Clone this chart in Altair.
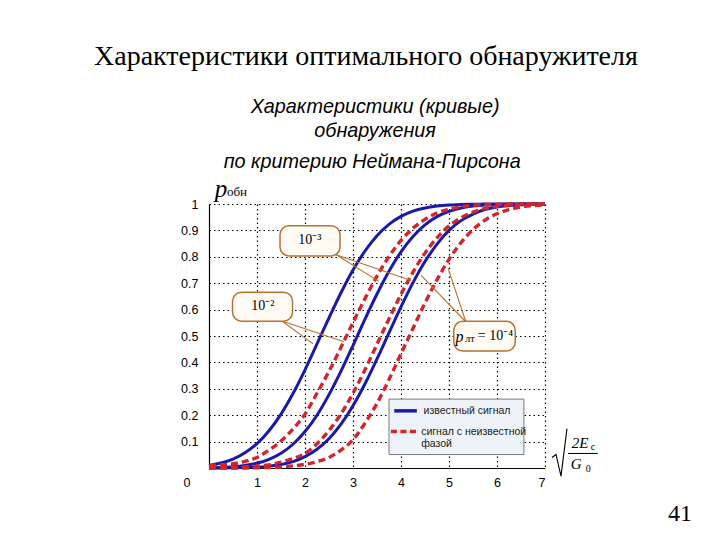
import altair as alt
import pandas as pd

# ---------------- data ----------------
x_grid = [0, 0.25, 0.5, 0.75, 1, 1.25, 1.5, 1.75, 2, 2.25, 2.5, 2.75, 3, 3.25, 3.5,
          3.75, 4, 4.25, 4.5, 4.75, 5, 5.25, 5.5, 5.75, 6, 6.25, 6.5, 6.75, 7]

# known signal (solid blue), false-alarm probability 1e-2, 1e-3, 1e-4
blue_pf2 = [0.010, 0.019, 0.034, 0.058, 0.092, 0.141, 0.204, 0.282, 0.372, 0.470, 0.569, 0.664, 0.750, 0.822, 0.880,
            0.923, 0.953, 0.973, 0.985, 0.992, 0.996, 0.998, 0.999, 1.0, 1.0, 1.0, 1.0, 1.0, 1.0]
blue_pf3 = [0.001, 0.002, 0.005, 0.010, 0.018, 0.033, 0.056, 0.090, 0.138, 0.200, 0.278, 0.367, 0.464, 0.564, 0.659,
            0.745, 0.819, 0.877, 0.921, 0.952, 0.972, 0.985, 0.992, 0.996, 0.998, 0.999, 1.0, 1.0, 1.0]
blue_pf4 = [0.000, 0.000, 0.001, 0.002, 0.003, 0.007, 0.013, 0.024, 0.043, 0.071, 0.111, 0.166, 0.236, 0.319, 0.413,
            0.512, 0.610, 0.702, 0.782, 0.848, 0.900, 0.937, 0.962, 0.979, 0.989, 0.994, 0.997, 0.999, 0.999]
# signal with unknown phase (dashed red)
red_pf2 = [0.010, 0.012, 0.016, 0.025, 0.040, 0.068, 0.102, 0.148, 0.204, 0.283, 0.366, 0.457, 0.551, 0.642, 0.727,
           0.801, 0.862, 0.908, 0.942, 0.966, 0.980, 0.990, 0.995, 0.998, 0.999, 1.0, 1.0, 1.0, 1.0]
red_pf3 = [0.001, 0.001, 0.002, 0.004, 0.007, 0.012, 0.022, 0.036, 0.055, 0.092, 0.142, 0.205, 0.283, 0.372, 0.469,
           0.565, 0.658, 0.742, 0.814, 0.872, 0.917, 0.948, 0.969, 0.983, 0.991, 0.996, 0.998, 0.999, 1.0]
red_pf4 = [0.000, 0.000, 0.000, 0.000, 0.001, 0.002, 0.004, 0.008, 0.014, 0.024, 0.040, 0.068, 0.107, 0.170, 0.245,
           0.335, 0.433, 0.529, 0.625, 0.713, 0.790, 0.854, 0.903, 0.939, 0.963, 0.979, 0.989, 0.994, 0.997]

x_ticks = [1, 2, 3, 4, 5, 6, 7]
y_ticks = [0.1, 0.2, 0.3, 0.4, 0.5, 0.6, 0.7, 0.8, 0.9, 1]

title_text = "Характеристики оптимального обнаружителя"
subtitle_lines = ["Характеристики (кривые)", "обнаружения", "по критерию Неймана-Пирсона"]
legend_labels = ["известный сигнал", "сигнал с неизвестной", "фазой"]
callout_labels = ["10⁻³", "10⁻²"]
page_number = "41"

# callout boxes (data units): x1, x2, y1, y2
box_x1 = [1.48, 0.49, 5.10]
box_x2 = [2.73, 1.74, 6.38]
box_y1 = [0.918, 0.666, 0.556]
box_y2 = [0.803, 0.556, 0.443]
# leader lines (data units)
lead_x1 = [2.65, 2.65, 1.52, 1.52, 5.35, 5.35]
lead_y1 = [0.808, 0.808, 0.557, 0.557, 0.554, 0.554]
lead_x2 = [3.54, 4.21, 2.17, 2.81, 4.42, 4.98]
lead_y2 = [0.707, 0.710, 0.470, 0.478, 0.730, 0.757]

BLUE = "#1a1aaa"
RED = "#d3242b"
BROWN = "#b8722f"

# ---------------- tables ----------------
rows = []
for name, vals, kind in [("b2", blue_pf2, "known"), ("b3", blue_pf3, "known"), ("b4", blue_pf4, "known"),
                         ("r2", red_pf2, "unknown"), ("r3", red_pf3, "unknown"), ("r4", red_pf4, "unknown")]:
    for xv, pv in zip(x_grid, vals):
        rows.append({"x": xv, "p": pv, "series": name, "kind": kind})
curves = pd.DataFrame(rows)

xs = alt.Scale(domain=[0, 7], nice=False, zero=False)
ys = alt.Scale(domain=[0, 1], nice=False, zero=False)
x_axis = alt.Axis(values=x_ticks, title=None, grid=True, gridDash=[1.5, 3], gridColor="black", gridOpacity=1,
                  gridWidth=1.2, ticks=False, labelPadding=8, labelFont="Liberation Sans", labelFontSize=12.5,
                  labelColor="black", domainColor="black", domainWidth=1.2)
y_axis = alt.Axis(values=y_ticks, title=None, grid=True, gridDash=[1.5, 3], gridColor="black", gridOpacity=1,
                  gridWidth=1.2, ticks=False, labelPadding=11, labelFont="Liberation Sans", labelFontSize=12.5,
                  labelColor="black", domainColor="black", domainWidth=1.2, format="~g")


def X(f):
    return alt.X(f, type="quantitative", scale=xs, axis=x_axis)


def Y(f):
    return alt.Y(f, type="quantitative", scale=ys, axis=y_axis)


blue_lines = alt.Chart(curves).transform_filter("datum.kind == 'known'").mark_line(
    color=BLUE, strokeWidth=3, interpolate="monotone").encode(x=X("x"), y=Y("p"), detail="series:N")
red_lines = alt.Chart(curves).transform_filter("datum.kind == 'unknown'").mark_line(
    color=RED, strokeWidth=3.4, strokeDash=[7, 4], interpolate="monotone").encode(x=X("x"), y=Y("p"), detail="series:N")

leaders = alt.Chart(pd.DataFrame({"x": lead_x1, "p": lead_y1, "x2": lead_x2, "p2": lead_y2})).mark_rule(
    color=BROWN, strokeWidth=1.1).encode(x=X("x"), y=Y("p"), x2="x2", y2="p2")

boxes = alt.Chart(pd.DataFrame({"x": box_x1, "x2": box_x2, "p": box_y1, "p2": box_y2})).mark_rect(
    cornerRadius=9, fill="#fffaf3", stroke=BROWN, strokeWidth=1.5).encode(x=X("x"), x2="x2", y=Y("p"), y2="p2")


def text_layer(xv, yv, txt, size, font="Liberation Serif", style="normal", align="center", color="black"):
    df = pd.DataFrame({"x": [xv], "p": [yv], "t": [txt]})
    return alt.Chart(df).mark_text(fontSize=size, font=font, fontStyle=style, align=align, baseline="middle",
                                   color=color).encode(x=X("x"), y=Y("p"), text="t:N")


# legend box
legend_box = alt.Chart(pd.DataFrame({"x": [3.75], "x2": [6.56], "p": [0.261], "p2": [0.051]})).mark_rect(
    fill="#eef2f9", stroke="#7a7a7a", strokeWidth=1).encode(x=X("x"), x2="x2", y=Y("p"), y2="p2")
leg_blue = alt.Chart(pd.DataFrame({"x": [3.86], "x2": [4.33], "p": [0.2165]})).mark_rule(
    color=BLUE, strokeWidth=3.5).encode(x=X("x"), x2="x2", y=Y("p"))
leg_red = alt.Chart(pd.DataFrame({"x": [3.79], "x2": [4.34], "p": [0.138]})).mark_rule(
    color=RED, strokeWidth=3.6, strokeDash=[6, 3.5]).encode(x=X("x"), x2="x2", y=Y("p"))

# radical sign of the x-axis title
radical = alt.Chart(pd.DataFrame({"x": [7.146, 7.229, 7.333, 7.458], "p": [0.040, 0.0513, -0.031, 0.149],
                                  "o": [0, 1, 2, 3]})).mark_line(color="black", strokeWidth=1.1).encode(
    x=X("x"), y=Y("p"), order="o:Q")
frac_bar = alt.Chart(pd.DataFrame({"x": [7.48], "x2": [8.10], "p": [0.0551]})).mark_rule(
    color="black", strokeWidth=1).encode(x=X("x"), x2="x2", y=Y("p"))

layers = [
    blue_lines, red_lines, leaders, boxes,
    text_layer(2.10, 0.862, callout_labels[0], 14),
    text_layer(1.12, 0.612, callout_labels[1], 14),
    text_layer(5.22, 0.497, "p", 16, style="italic"),
    text_layer(5.34, 0.488, "лт", 10, align="left"),
    text_layer(5.60, 0.500, "= 10⁻⁴", 14, align="left"),
    legend_box, leg_blue, leg_red,
    text_layer(4.47, 0.2165, legend_labels[0], 10.5, font="Liberation Sans", align="left", color="#222222"),
    text_layer(4.42, 0.138, legend_labels[1], 10.5, font="Liberation Sans", align="left", color="#222222"),
    text_layer(4.42, 0.0915, legend_labels[2], 10.5, font="Liberation Sans", align="left", color="#222222"),
    radical, frac_bar,
    text_layer(7.73, 0.094, "2E", 15, style="italic"),
    text_layer(8.00, 0.078, "с", 10),
    text_layer(7.65, 0.016, "G", 15, style="italic"),
    text_layer(7.90, -0.004, "0", 10),
    text_layer(-0.458, -0.058, "0", 12.5, font="Liberation Sans"),
    text_layer(0.25, 1.058, "p", 25, style="italic"),
    text_layer(0.375, 1.045, "обн", 13, align="left"),
    text_layer(3.27, 1.557, title_text, 28),
    text_layer(3.46, 1.368, subtitle_lines[0], 19.8, font="Liberation Sans", style="italic"),
    text_layer(3.46, 1.278, subtitle_lines[1], 19.8, font="Liberation Sans", style="italic"),
    text_layer(3.40, 1.160, subtitle_lines[2], 19.8, font="Liberation Sans", style="italic"),
    text_layer(9.81, -0.173, page_number, 24),
]

chart = alt.layer(*layers).properties(
    width=336, height=264,
    padding={"left": 201, "top": 196, "right": 160, "bottom": 60},
    autosize=alt.AutoSizeParams(type="none"),
    background="white",
).configure_view(stroke=None)

chart.save("out.html", embed_options={"renderer": "svg", "actions": False})
